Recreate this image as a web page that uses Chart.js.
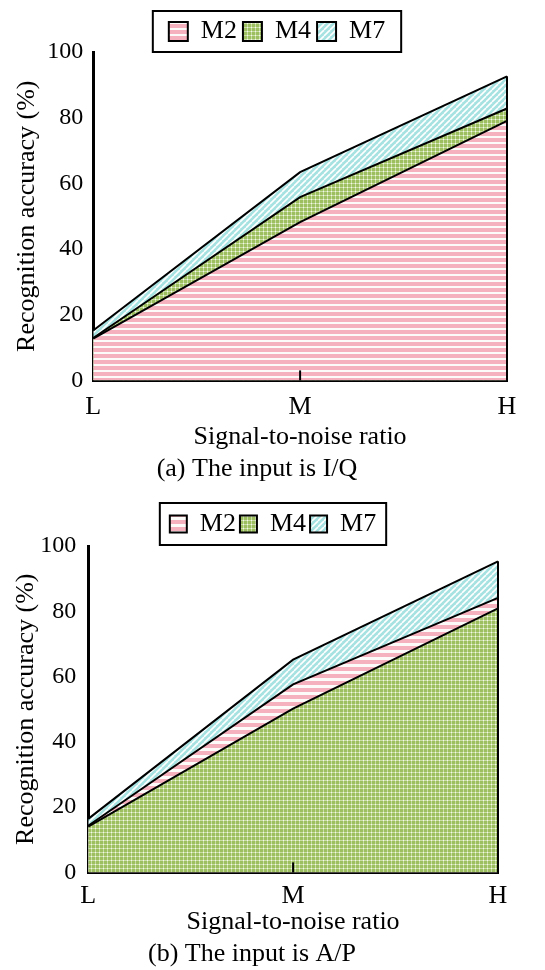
<!DOCTYPE html>
<html>
<head>
<meta charset="utf-8">
<script src="https://cdn.jsdelivr.net/npm/chart.js@4.4.1/dist/chart.umd.min.js"></script>
<style>
  html, body { margin: 0; padding: 0; background: #fff; }
  .panel { width: 545px; height: 485px; }
</style>
</head>
<body>
<div class="panel"><canvas id="iqChart" width="545" height="485"></canvas></div>
<div class="panel"><canvas id="apChart" width="545" height="485"></canvas></div>
<script>
const snrLabels = ['L', 'M', 'H'];
const seriesNames = ['M2', 'M4', 'M7'];
const yMin = 0, yMax = 100, yStep = 20;

// (a) input is I/Q
const iqM2 = [12.7, 48.2, 79.0];
const iqM4 = [12.9, 55.8, 82.8];
const iqM7 = [15.2, 63.4, 92.6];

// (b) input is A/P
const apM2 = [14.3, 57.6, 84.1];
const apM4 = [14.0, 50.2, 80.9];
const apM7 = [16.4, 65.2, 95.3];

const FONT = 'Liberation Serif, Times New Roman, serif';

function makePattern(w, h, paint) {
    const c = document.createElement('canvas');
    c.width = w;
    c.height = h;
    const g = c.getContext('2d');
    paint(g, w, h);
    return g.createPattern(c, 'repeat');
}

function pinkStripes(pinkRows, whiteRows) {
    return makePattern(4, pinkRows + whiteRows, (g, w, h) => {
        g.fillStyle = '#fdfafa';
        g.fillRect(0, 0, w, h);
        g.fillStyle = '#f5b2be';
        g.fillRect(0, 0, w, pinkRows);
    });
}

const greenDots = makePattern(4, 4, (g, w, h) => {
    g.fillStyle = '#9dbf60';
    g.fillRect(0, 0, w, h);
    g.fillStyle = '#c9dea4';
    g.fillRect(0, 3, 4, 1);
    g.fillRect(3, 0, 1, 4);
    g.fillStyle = '#f4f8ec';
    g.fillRect(3, 3, 1, 1);
});

const cyanDiag = makePattern(6, 6, (g, w, h) => {
    g.fillStyle = '#a6e2e1';
    g.fillRect(0, 0, w, h);
    g.strokeStyle = '#ffffff';
    g.lineWidth = 1.6;
    [0, 6, 12].forEach(s => {
        g.beginPath();
        g.moveTo(s - 6, 6);
        g.lineTo(s, 0);
        g.stroke();
    });
});

// legend offset, legend frame, right edge of areas, inner tick at M
const panelDecor = {
    id: 'panelDecor',
    afterLayout(chart, args, opts) {
        const lg = chart.legend;
        lg.left += opts.dx; lg.right += opts.dx;
        lg.top += opts.dy; lg.bottom += opts.dy;
    },
    afterDatasetsDraw(chart) {
        const ctx = chart.ctx;
        const y0 = chart.scales.y.getPixelForValue(0);
        ctx.save();
        ctx.strokeStyle = '#000';
        ctx.lineWidth = 2;
        chart.data.datasets.forEach((ds, i) => {
            const pts = chart.getDatasetMeta(i).data;
            const last = pts[pts.length - 1];
            ctx.beginPath();
            ctx.moveTo(last.x, last.y);
            ctx.lineTo(last.x, y0);
            ctx.stroke();
        });
        ctx.restore();
    },
    afterDraw(chart, args, opts) {
        const ctx = chart.ctx;
        const x = chart.scales.x;
        const yb = chart.scales.y.getPixelForValue(0);
        ctx.save();
        ctx.strokeStyle = '#000';
        ctx.lineWidth = 2;
        for (let i = 1; i < snrLabels.length - 1; i++) {
            const px = x.getPixelForValue(i);
            ctx.beginPath();
            ctx.moveTo(px, yb);
            ctx.lineTo(px, yb - 10);
            ctx.stroke();
        }
        const lg = chart.legend;
        const lo = lg.options.labels;
        const pad = lo.padding;
        const lw = lg.lineWidths[0];
        const start = (lg.left + pad + lg.right - lw) / 2;
        const end = start + lw - pad;
        const itemH = Math.max(lo.font.size, lo.boxHeight);
        const cy = lg.top + pad + itemH / 2;
        ctx.strokeRect(start - opts.padX, cy - opts.halfH, end - start + 2 * opts.padX, opts.halfH * 2);
        ctx.restore();
    }
};

function buildChart(canvasId, values, orders, pink, cfg) {
    const fills = [pink, greenDots, cyanDiag];
    const datasets = seriesNames.map((name, i) => ({
        label: name,
        data: values[i],
        order: orders[i],
        fill: 'origin',
        backgroundColor: fills[i],
        borderColor: '#000',
        borderWidth: 2,
        pointRadius: 0,
        tension: 0
    }));

    return new Chart(document.getElementById(canvasId), {
        type: 'line',
        data: { labels: snrLabels, datasets: datasets },
        plugins: [panelDecor],
        options: {
            responsive: false,
            animation: false,
            layout: { padding: { left: cfg.padL, right: cfg.padR, top: cfg.padTop, bottom: 0 } },
            plugins: {
                legend: {
                    display: true,
                    position: 'top',
                    labels: {
                        sort: (a, b) => a.datasetIndex - b.datasetIndex,
                        boxWidth: cfg.box,
                        boxHeight: cfg.box,
                        padding: cfg.legendPad,
                        color: '#000',
                        font: { family: FONT, size: 26 }
                    }
                },
                title: {
                    display: true,
                    position: 'bottom',
                    text: cfg.caption,
                    color: '#000',
                    font: { family: FONT, size: 26, weight: 'normal' },
                    padding: 0
                },
                tooltip: { enabled: false },
                panelDecor: cfg.decor
            },
            scales: {
                x: {
                    z: 1,
                    grid: { display: false, drawTicks: false },
                    border: { display: true, color: '#000', width: 3 },
                    ticks: { color: '#000', padding: cfg.xTickPad, font: { family: FONT, size: 26 } },
                    title: {
                        display: true,
                        text: 'Signal-to-noise ratio',
                        color: '#000',
                        font: { family: FONT, size: 26 },
                        padding: cfg.xTitlePad
                    }
                },
                y: {
                    z: 1,
                    min: yMin,
                    max: yMax,
                    grid: { display: false, drawTicks: false },
                    border: { display: true, color: '#000', width: 3 },
                    ticks: { stepSize: yStep, color: '#000', padding: cfg.yTickPad, font: { family: FONT, size: 24 } },
                    title: {
                        display: true,
                        text: 'Recognition accuracy (%)',
                        color: '#000',
                        font: { family: FONT, size: 26 },
                        padding: cfg.yTitlePad
                    }
                }
            }
        }
    });
}

buildChart('iqChart', [iqM2, iqM4, iqM7], [0, 1, 2], pinkStripes(4, 2), {
    caption: '(a) The input is I/Q',
    padL: 7, padR: 38, padTop: 10,
    box: 19, legendPad: 6,
    xTickPad: 11, xTitlePad: { top: -12, bottom: 1 },
    yTickPad: 10, yTitlePad: { top: 5, bottom: -6 },
    decor: { dx: 20, dy: 2.5, padX: 16, halfH: 20.5 }
});

buildChart('apChart', [apM2, apM4, apM7], [1, 0, 2], pinkStripes(4, 3), {
    caption: '(b) The input is A/P',
    padL: 6, padR: 47, padTop: 21,
    box: 17, legendPad: 4,
    xTickPad: 8, xTitlePad: { top: -13, bottom: 1 },
    yTickPad: 12, yTitlePad: { top: 5, bottom: -14 },
    decor: { dx: 21, dy: 1, padX: 10, halfH: 21 }
});
</script>
</body>
</html>
